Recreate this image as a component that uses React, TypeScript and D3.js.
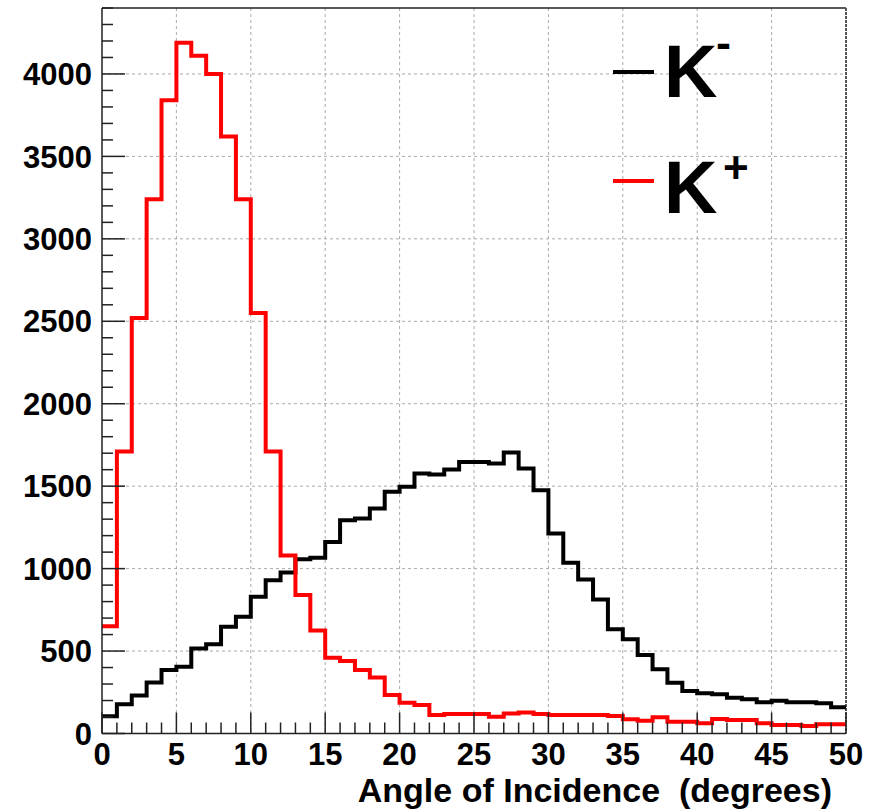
import React from 'react';
import * as d3 from 'd3';

// bin contents, 1 degree bins from 0 to 50
const kMinus = [
  105, 177, 231, 310, 385, 405, 516, 542, 647, 708,
  829, 930, 977, 1057, 1066, 1162, 1294, 1304, 1365, 1466,
  1496, 1577, 1571, 1601, 1647, 1647, 1637, 1704, 1607, 1476,
  1213, 1035, 934, 813, 633, 571, 476, 389, 308, 258,
  244, 238, 217, 207, 189, 199, 189, 189, 183, 159,
];
const kPlus = [
  650, 1710, 2520, 3240, 3840, 4190, 4110, 4000, 3620, 3240,
  2550, 1710, 1080, 840, 625, 460, 440, 385, 340, 233,
  187, 173, 112, 118, 118, 118, 102, 122, 128, 118,
  112, 112, 112, 112, 106, 86, 78, 98, 72, 72,
  62, 88, 82, 82, 62, 52, 52, 45, 56, 56,
];
const xTicks = [0, 5, 10, 15, 20, 25, 30, 35, 40, 45, 50];
const yTicks = [0, 500, 1000, 1500, 2000, 2500, 3000, 3500, 4000];
const xTitle = 'Angle of Incidence  (degrees)';

const W = 876;
const H = 809;
const left = 102, right = 846, top = 8, bottom = 733.5;
const font = '"Liberation Sans", Arial, Helvetica, sans-serif';

const x = d3.scaleLinear().domain([0, 50]).range([left, right]);
const y = d3.scaleLinear().domain([0, 4400]).range([bottom, top]);

// step path: each bin drawn as a flat segment
const histPath = (vals: number[]) => {
  const pts: [number, number][] = vals.map((v, i) => [i, v]);
  pts.push([vals.length, vals[vals.length - 1]]);
  return d3.line<[number, number]>()
    .x(d => x(d[0]))
    .y(d => y(d[1]))
    .curve(d3.curveStepAfter)(pts) as string;
};

const App = () => {
  const minorX = d3.range(0, 51);
  const minorY = d3.range(0, 4401, 100);
  return (
    <svg width={W} height={H} style={{ position: 'absolute', left: 0, top: 0, background: '#fff' }}
      fontFamily={font} fontWeight="bold">
      {/* grid */}
      {xTicks.slice(1, -1).map(t => (
        <line key={'gx' + t} x1={x(t)} x2={x(t)} y1={top} y2={bottom}
          stroke="#aaa" strokeWidth={1} strokeDasharray="3,3" />
      ))}
      {yTicks.slice(1).map(t => (
        <line key={'gy' + t} x1={left} x2={right} y1={y(t)} y2={y(t)}
          stroke="#aaa" strokeWidth={1} strokeDasharray="3,3" />
      ))}

      {/* frame */}
      <line x1={left} x2={right} y1={top} y2={top} stroke="#222" strokeWidth={1.5} />
      <line x1={right} x2={right} y1={top} y2={bottom} stroke="#555" strokeWidth={2} strokeDasharray="3,1" />

      {/* histograms */}
      <path d={histPath(kMinus)} fill="none" stroke="#000" strokeWidth={4} />
      <path d={histPath(kPlus)} fill="none" stroke="#ff0000" strokeWidth={4} />

      {/* axes */}
      <line x1={left} x2={left} y1={top} y2={bottom} stroke="#222" strokeWidth={1.5} />
      <line x1={left} x2={right} y1={bottom} y2={bottom} stroke="#222" strokeWidth={1.5} />
      {minorY.map(t => (
        <line key={'ty' + t} x1={left} x2={left + (t % 500 === 0 ? 23 : 11)} y1={y(t)} y2={y(t)}
          stroke="#222" strokeWidth={1.5} />
      ))}
      {minorX.map(t => (
        <line key={'tx' + t} x1={x(t)} x2={x(t)} y1={bottom} y2={bottom - (t % 5 === 0 ? 21 : 11)}
          stroke="#222" strokeWidth={1.5} />
      ))}

      {/* tick labels */}
      {yTicks.map(t => (
        <text key={'ly' + t} x={92} y={y(t)} dy="0.36em" textAnchor="end" fontSize={31}>{t}</text>
      ))}
      {xTicks.map(t => (
        <text key={'lx' + t} x={x(t)} y={765} textAnchor="middle" fontSize={31}>{t}</text>
      ))}
      <text x={832} y={802} textAnchor="end" fontSize={34} style={{ whiteSpace: 'pre' }}>{xTitle}</text>

      {/* legend */}
      <line x1={613} x2={654} y1={72} y2={72} stroke="#000" strokeWidth={4} />
      <text x={664} y={97} fontSize={74}>K</text>
      <text x={716} y={58} fontSize={45}>-</text>
      <line x1={613} x2={654} y1={181} y2={181} stroke="#ff0000" strokeWidth={4} />
      <text x={664} y={213} fontSize={74}>K</text>
      <text x={723} y={183} fontSize={44}>+</text>
    </svg>
  );
};

export default App;
